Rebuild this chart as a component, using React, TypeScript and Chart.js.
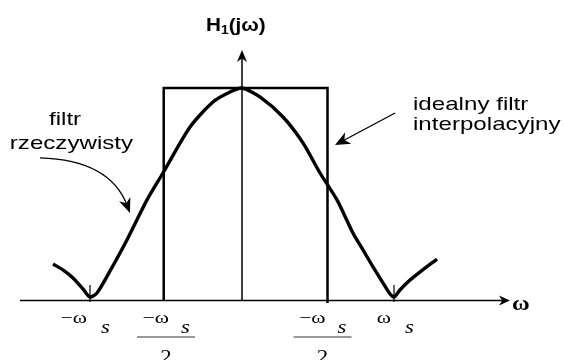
import React, { useEffect, useRef } from "react";
import { Chart, registerables } from "chart.js";

Chart.register(...registerables);

// ---- data: ω in units of ωs, H normalised to the peak ----
const curveOmega = [
  -1.243, -1.178, -1.112, -1.046, -1.0, -0.954, -0.868, -0.757, -0.625, -0.52,
  -0.342, -0.191, -0.079, 0, 0.118, 0.27, 0.401, 0.513, 0.625, 0.73, 0.796,
  0.862, 0.928, 0.974, 1.0, 1.039, 1.105, 1.171, 1.283,
];
const curveH = [
  0.17, 0.142, 0.104, 0.052, 0.014, 0.033, 0.137, 0.283, 0.472, 0.599,
  0.816, 0.934, 0.981, 1.0, 0.958, 0.863, 0.741, 0.599, 0.472, 0.316, 0.236,
  0.156, 0.08, 0.028, 0.014, 0.047, 0.094, 0.132, 0.193,
];
const rectOmega = [-0.515, -0.515, 0.5625, 0.5625];
const rectH = [0, 1, 1, -0.014];

const tickOmega = [-1, -0.5, 0.53, 1];
const tickMain = ["\u2212\u03c9", "\u2212\u03c9", "\u2212\u03c9", "\u03c9"];
const tickSub = ["s", "s", "s", "s"];
const tickDenominator = ["", "2", "2", ""];
const markOmega = [-1, 1];

const axisTitleY = "H";
const axisTitleYSub = "1";
const axisTitleYRest = "(j\u03c9)";
const axisTitleX = "\u03c9";
const realFilterLines = ["filtr", "rzeczywisty"];
const idealFilterLines = ["idealny filtr", "interpolacyjny"];

// ---- scale ranges ----
const X_MIN = -1.5921;
const X_MAX = 2.1184;
const Y_MIN = -0.283;
const Y_MAX = 1.415;

const SX = 1.27; // horizontal stretch of the lettering

function txt(ctx: CanvasRenderingContext2D, s: string, x: number, y: number, font: string, align: CanvasTextAlign, sx = SX) {
  ctx.save();
  ctx.font = font;
  ctx.translate(x, y);
  ctx.scale(sx, 1);
  ctx.textAlign = align;
  ctx.textBaseline = "alphabetic";
  ctx.fillStyle = "#000";
  ctx.fillText(s, 0, 0);
  ctx.restore();
}

function measure(ctx: CanvasRenderingContext2D, s: string, font: string, sx = SX) {
  ctx.save();
  ctx.font = font;
  const w = ctx.measureText(s).width * sx;
  ctx.restore();
  return w;
}

function arrowHead(ctx: CanvasRenderingContext2D, tx: number, ty: number, ang: number, len: number, hw: number, notch = 0.3) {
  const c = Math.cos(ang), s = Math.sin(ang);
  const bx = tx - c * len, by = ty - s * len;
  const nx = tx - c * len * (1 - notch), ny = ty - s * len * (1 - notch);
  ctx.beginPath();
  ctx.moveTo(tx, ty);
  ctx.lineTo(bx - s * hw, by + c * hw);
  ctx.lineTo(nx, ny);
  ctx.lineTo(bx + s * hw, by - c * hw);
  ctx.closePath();
  ctx.fill();
}

const decorPlugin = {
  id: "decor",
  beforeDraw(chart: any) {
    const ctx = chart.ctx as CanvasRenderingContext2D;
    ctx.save();
    ctx.fillStyle = "#fff";
    ctx.fillRect(0, 0, chart.width, chart.height);
    ctx.restore();
  },
  beforeDatasetsDraw(chart: any) {
    const ctx = chart.ctx as CanvasRenderingContext2D;
    const xs = chart.scales.x, ys = chart.scales.y;
    const px = (v: number) => xs.getPixelForValue(v);
    const py = (v: number) => ys.getPixelForValue(v);
    ctx.save();
    ctx.strokeStyle = "#000";
    ctx.fillStyle = "#000";
    ctx.lineWidth = 1.5;
    // x axis
    const x0 = px(-1.461), x1 = px(1.763), yA = py(0) + 0.5;
    ctx.beginPath();
    ctx.moveTo(x0, yA);
    ctx.lineTo(x1 - 6, yA);
    ctx.stroke();
    arrowHead(ctx, x1, yA, 0, 11, 5, 0.3);
    // y axis
    const xA = px(0), yTop = py(1.179);
    ctx.beginPath();
    ctx.moveTo(xA, py(0));
    ctx.lineTo(xA, yTop + 6);
    ctx.stroke();
    arrowHead(ctx, xA, yTop, -Math.PI / 2, 12, 5, 0.3);
    // small marks at ±ωs
    ctx.lineWidth = 1.2;
    markOmega.forEach((m) => {
      ctx.beginPath();
      ctx.moveTo(px(m), py(0.071));
      ctx.lineTo(px(m), py(-0.01));
      ctx.stroke();
    });
    ctx.restore();
  },
  afterDatasetsDraw(chart: any) {
    const ctx = chart.ctx as CanvasRenderingContext2D;
    const xs = chart.scales.x, ys = chart.scales.y;
    const px = (v: number) => xs.getPixelForValue(v);
    const py = (v: number) => ys.getPixelForValue(v);
    const yA = py(0);
    ctx.save();
    // tick labels
    const fMain = "17px 'Liberation Serif'";
    const fSub = "italic 18px 'Liberation Serif'";
    tickOmega.forEach((t, i) => {
      const x = px(t);
      if (tickDenominator[i]) {
        txt(ctx, tickMain[i], x + 3, yA + 23, fMain, "right");
        txt(ctx, tickSub[i], x + 15, yA + 33, fSub, "left");
        ctx.strokeStyle = "#777";
        ctx.lineWidth = 1.5;
        ctx.beginPath();
        ctx.moveTo(x - 29, yA + 37);
        ctx.lineTo(x + 29, yA + 37);
        ctx.stroke();
        txt(ctx, tickDenominator[i], x, yA + 63, "18px 'Liberation Serif'", "center");
      } else {
        txt(ctx, tickMain[i], x - 3, yA + 23, fMain, "right");
        txt(ctx, tickSub[i], x + 11, yA + 33, fSub, "left");
      }
    });
    // axis titles
    txt(ctx, axisTitleX, px(1.763) + 2, yA + 10, "bold 21px 'Liberation Serif'", "left", 1.15);
    const fH = "bold 18px 'Liberation Sans'";
    const fHs = "bold 12px 'Liberation Sans'";
    const wH = measure(ctx, axisTitleY, fH, 1.15);
    const wS = measure(ctx, axisTitleYSub, fHs, 1.15);
    const wR = measure(ctx, axisTitleYRest, fH, 1.15);
    const total = wH + wS + wR;
    const cx = px(-0.04);
    const by = py(1.269);
    let lx = cx - total / 2;
    txt(ctx, axisTitleY, lx, by, fH, "left", 1.15);
    lx += wH;
    txt(ctx, axisTitleYSub, lx, by + 3, fHs, "left", 1.15);
    lx += wS;
    txt(ctx, axisTitleYRest, lx, by, fH, "left", 1.15);

    // annotations
    const fA = "19px 'Liberation Sans'";
    txt(ctx, realFilterLines[0], px(-1.164), py(0.825), fA, "center");
    txt(ctx, realFilterLines[1], px(-1.122), py(0.712), fA, "center");
    txt(ctx, idealFilterLines[0], px(1.125), py(0.894), fA, "left");
    txt(ctx, idealFilterLines[1], px(1.125), py(0.8), fA, "left");

    ctx.strokeStyle = "#000";
    ctx.fillStyle = "#000";
    ctx.lineWidth = 1.3;
    // curved pointer to the real filter
    const s0x = px(-1.329), s0y = py(0.67);
    const c0x = px(-0.868), c0y = py(0.66);
    const e0x = px(-0.737), e0y = py(0.41);
    const ang0 = Math.atan2(e0y - c0y, e0x - c0x);
    ctx.beginPath();
    ctx.moveTo(s0x, s0y);
    ctx.quadraticCurveTo(c0x, c0y, e0x - Math.cos(ang0) * 8, e0y - Math.sin(ang0) * 8);
    ctx.stroke();
    arrowHead(ctx, e0x, e0y, ang0, 15, 6, 0.3);
    // straight pointer to the ideal filter
    const s1x = px(1.007), s1y = py(0.882);
    const e1x = px(0.612), e1y = py(0.731);
    const ang1 = Math.atan2(e1y - s1y, e1x - s1x);
    ctx.beginPath();
    ctx.moveTo(s1x, s1y);
    ctx.lineTo(e1x - Math.cos(ang1) * 8, e1y - Math.sin(ang1) * 8);
    ctx.stroke();
    arrowHead(ctx, e1x, e1y, ang1, 15, 6.5, 0.3);
    ctx.restore();
  },
};

export default function App() {
  const ref = useRef<HTMLCanvasElement | null>(null);
  useEffect(() => {
    if (!ref.current) return;
    const chart = new Chart(ref.current, {
      type: "line",
      data: {
        datasets: [
          {
            label: "filtr rzeczywisty",
            data: curveOmega.map((x, i) => ({ x, y: curveH[i] })),
            borderColor: "#000",
            borderWidth: 3.4,
            pointRadius: 0,
            tension: 0.25,
            fill: false,
            clip: false,
            borderCapStyle: "butt",
            borderJoinStyle: "round",
          },
          {
            label: "idealny filtr interpolacyjny",
            data: rectOmega.map((x, i) => ({ x, y: rectH[i] })),
            borderColor: "#000",
            borderWidth: 2.5,
            pointRadius: 0,
            tension: 0,
            fill: false,
            clip: false,
            borderJoinStyle: "miter",
          },
        ],
      },
      options: {
        animation: false,
        responsive: false,
        devicePixelRatio: 1,
        events: [],
        layout: { padding: 0 },
        plugins: { legend: { display: false }, tooltip: { enabled: false } },
        scales: {
          x: { type: "linear", min: X_MIN, max: X_MAX, display: false },
          y: { type: "linear", min: Y_MIN, max: Y_MAX, display: false },
        },
      } as any,
      plugins: [decorPlugin],
    });
    return () => chart.destroy();
  }, []);
  return (
    <div style={{ position: "absolute", left: 0, top: 0, width: 564, height: 360, background: "#fff" }}>
      <canvas ref={ref} width={564} height={360} style={{ display: "block" }} />
    </div>
  );
}
